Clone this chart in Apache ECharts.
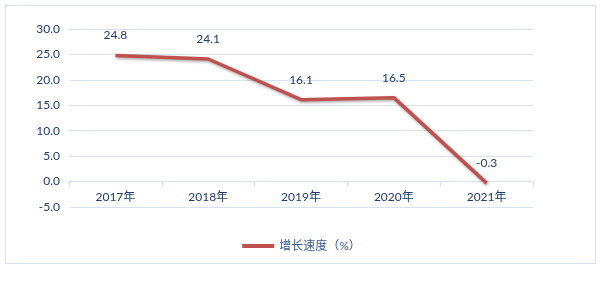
<!DOCTYPE html>
<html><head><meta charset="utf-8">
<script src="https://cdn.jsdelivr.net/npm/echarts@6/dist/echarts.min.js"></script>
<style>
html,body{margin:0;padding:0;background:#fff;}
#frame{position:absolute;left:5px;top:5px;width:591px;height:259px;border:1px solid #d6e2ef;box-sizing:border-box;}
#c{position:absolute;left:0;top:0;width:603px;height:283px;}
</style></head>
<body>
<div id="frame"></div>
<div id="c"></div>
<script>
var categories = ['2017年','2018年','2019年','2020年','2021年'];
var growth = [24.8, 24.1, 16.1, 16.5, -0.3];
var seriesName = '增长速度（%）';
var yMin = -5, yMax = 30, yStep = 5;

var font = 'Lato, "Noto Sans CJK SC", sans-serif';
var txt = '#1f3c6e';
var chart = echarts.init(document.getElementById('c'), null, {renderer:'canvas'});
chart.setOption({
  animation:false,
  textStyle:{fontFamily:font},
  grid:{left:69, right:70, top:29, bottom:76},
  legend:{
    data:[seriesName], bottom:26, left:'center',
    itemWidth:32, itemHeight:4, itemGap:4,
    icon:'rect',
    textStyle:{color:'#3a5a8c', fontSize:12, fontFamily:font}
  },
  xAxis:{
    type:'category', data:categories, boundaryGap:true,
    position:'bottom', offset:-25.3,
    axisLine:{show:true, onZero:false, lineStyle:{color:'#d6e2ef', width:1}},
    axisTick:{show:true, length:5, lineStyle:{color:'#d6e2ef'}},
    axisLabel:{color:txt, fontSize:12, margin:9, fontFamily:font}
  },
  yAxis:{
    type:'value', min:yMin, max:yMax, interval:yStep,
    axisLine:{show:false}, axisTick:{show:false},
    axisLabel:{color:txt, fontSize:12, margin:9, fontFamily:font,
      formatter:function(v){return v.toFixed(1);}},
    splitLine:{lineStyle:{color:'#d6e2ef', width:1}}
  },
  series:[{
    name:seriesName, type:'line', data:growth,
    symbol:'circle', symbolSize:0, showSymbol:true,
    lineStyle:{color:'#c0504d', width:3.5, shadowColor:'rgba(0,0,0,0.35)', shadowBlur:3, shadowOffsetY:1.5, shadowOffsetX:1},
    itemStyle:{color:'#c0504d'},
    label:{show:true, position:'top', distance:14, color:txt, fontSize:12, fontFamily:font,
      formatter:function(p){return p.value.toFixed(1);}}
  }]
});
</script>
</body></html>
